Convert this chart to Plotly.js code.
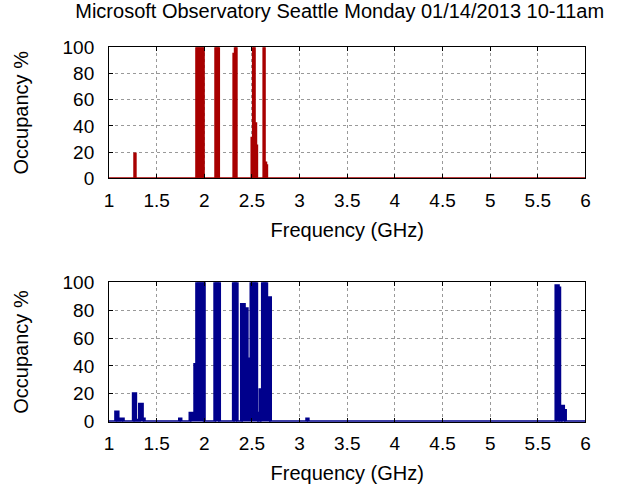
<!DOCTYPE html>
<html>
<head>
<meta charset="utf-8">
<script src="https://cdn.plot.ly/plotly-3.0.1.min.js"></script>
<style>html,body{margin:0;padding:0;background:#fff;}#chart{width:629px;height:487px;}</style>
</head>
<body>
<div id="chart"></div>
<script>
// Top panel (red): bin start frequency (GHz) and occupancy (%)
const topFreq = [1.0, 1.265, 1.28, 1.915, 1.995, 2.115, 2.155, 2.305, 2.32, 2.34, 2.495, 2.51, 2.53, 2.545, 2.555, 2.62, 2.635, 2.65, 2.66, 6.0];
const topOcc  = [0,   19,    0,    100,   0,     100,   0,     95,    100,  0,    31,    100,  42,   25,    0,     100,  12,    10,   0,    0];

// Bottom panel (blue)
const botFreq = [1.0, 1.07, 1.095, 1.115, 1.15, 1.255, 1.28, 1.32, 1.35, 1.37, 1.74, 1.755, 1.85, 1.88, 1.9, 1.92, 2.0, 2.11, 2.16, 2.305, 2.345, 2.39, 2.42, 2.45, 2.48, 2.49, 2.55, 2.57, 2.585, 2.61, 2.655, 2.695, 3.075, 3.09, 5.69, 5.715, 5.73, 5.745, 5.77, 5.79, 6.0];
const botOcc  = [0,   7,    1,     2,     0,    20,    1,    12.5, 2,    0,    2,    0,     6,    4,    41,  100,  0,   100,  0,    100,   0,     84,   81,   45,   5,    100,  6,    0,    23,    100,  89,    0,     2,     0,    97.5, 96,    0,    11,    8,    0,    0];

const xTicks = [1, 1.5, 2, 2.5, 3, 3.5, 4, 4.5, 5, 5.5, 6];
const yTicks = [0, 20, 40, 60, 80, 100];

const FONT = 'Liberation Sans, Arial, sans-serif';
const data = [
  {x: topFreq, y: topOcc, type: 'scatter', mode: 'lines', line: {shape: 'hv', color: '#a80000', width: 2},
   fill: 'tozeroy', fillcolor: '#a80000', xaxis: 'x', yaxis: 'y', hoverinfo: 'skip'},
  {x: botFreq, y: botOcc, type: 'scatter', mode: 'lines', line: {shape: 'hv', color: '#00008c', width: 3},
   fill: 'tozeroy', fillcolor: '#00008c', xaxis: 'x2', yaxis: 'y2', hoverinfo: 'skip'}
];

function xax(anchor, domain) {
  return {domain: domain, anchor: anchor, range: [1, 6], tickvals: xTicks, ticktext: xTicks.map(String),
    ticks: 'inside', ticklen: 4, tickcolor: '#000', showline: true, mirror: 'ticks', linecolor: '#000', linewidth: 1,
    showgrid: true, gridcolor: '#999', griddash: 'dot', gridwidth: 1, zeroline: false,
    tickfont: {family: FONT, size: 19, color: '#000'}, ticklabelstandoff: 5,
    title: {text: 'Frequency (GHz)', font: {family: FONT, size: 20, color: '#000'}, standoff: 12}};
}
function yax(anchor, domain) {
  return {domain: domain, anchor: anchor, range: [0, 100], tickvals: yTicks, ticktext: yTicks.map(String),
    ticks: 'inside', ticklen: 4, tickcolor: '#000', showline: true, mirror: 'ticks', linecolor: '#000', linewidth: 1,
    showgrid: true, gridcolor: '#999', griddash: 'dot', gridwidth: 1, zeroline: false,
    tickfont: {family: FONT, size: 19, color: '#000'}, ticklabelstandoff: 10,
    title: {text: 'Occupancy %', font: {family: FONT, size: 20, color: '#000'}, standoff: 28}};
}

const layout = {
  width: 629, height: 487,
  margin: {l: 0, r: 0, t: 0, b: 0},
  paper_bgcolor: '#fff', plot_bgcolor: '#fff',
  showlegend: false,
  title: {text: 'Microsoft Observatory Seattle Monday 01/14/2013 10-11am', font: {family: FONT, size: 20, color: '#000'},
    x: 0.54, xref: 'paper', xanchor: 'center', y: 0.977, yref: 'container', yanchor: 'middle'},
  xaxis: xax('y', [0.1733, 0.9308]),
  yaxis: yax('x', [0.6339, 0.9029]),
  xaxis2: xax('y2', [0.1733, 0.9308]),
  yaxis2: yax('x2', [0.1341, 0.4203])
};

Plotly.newPlot('chart', data, layout, {displayModeBar: false, staticPlot: true});
</script>
</body>
</html>
